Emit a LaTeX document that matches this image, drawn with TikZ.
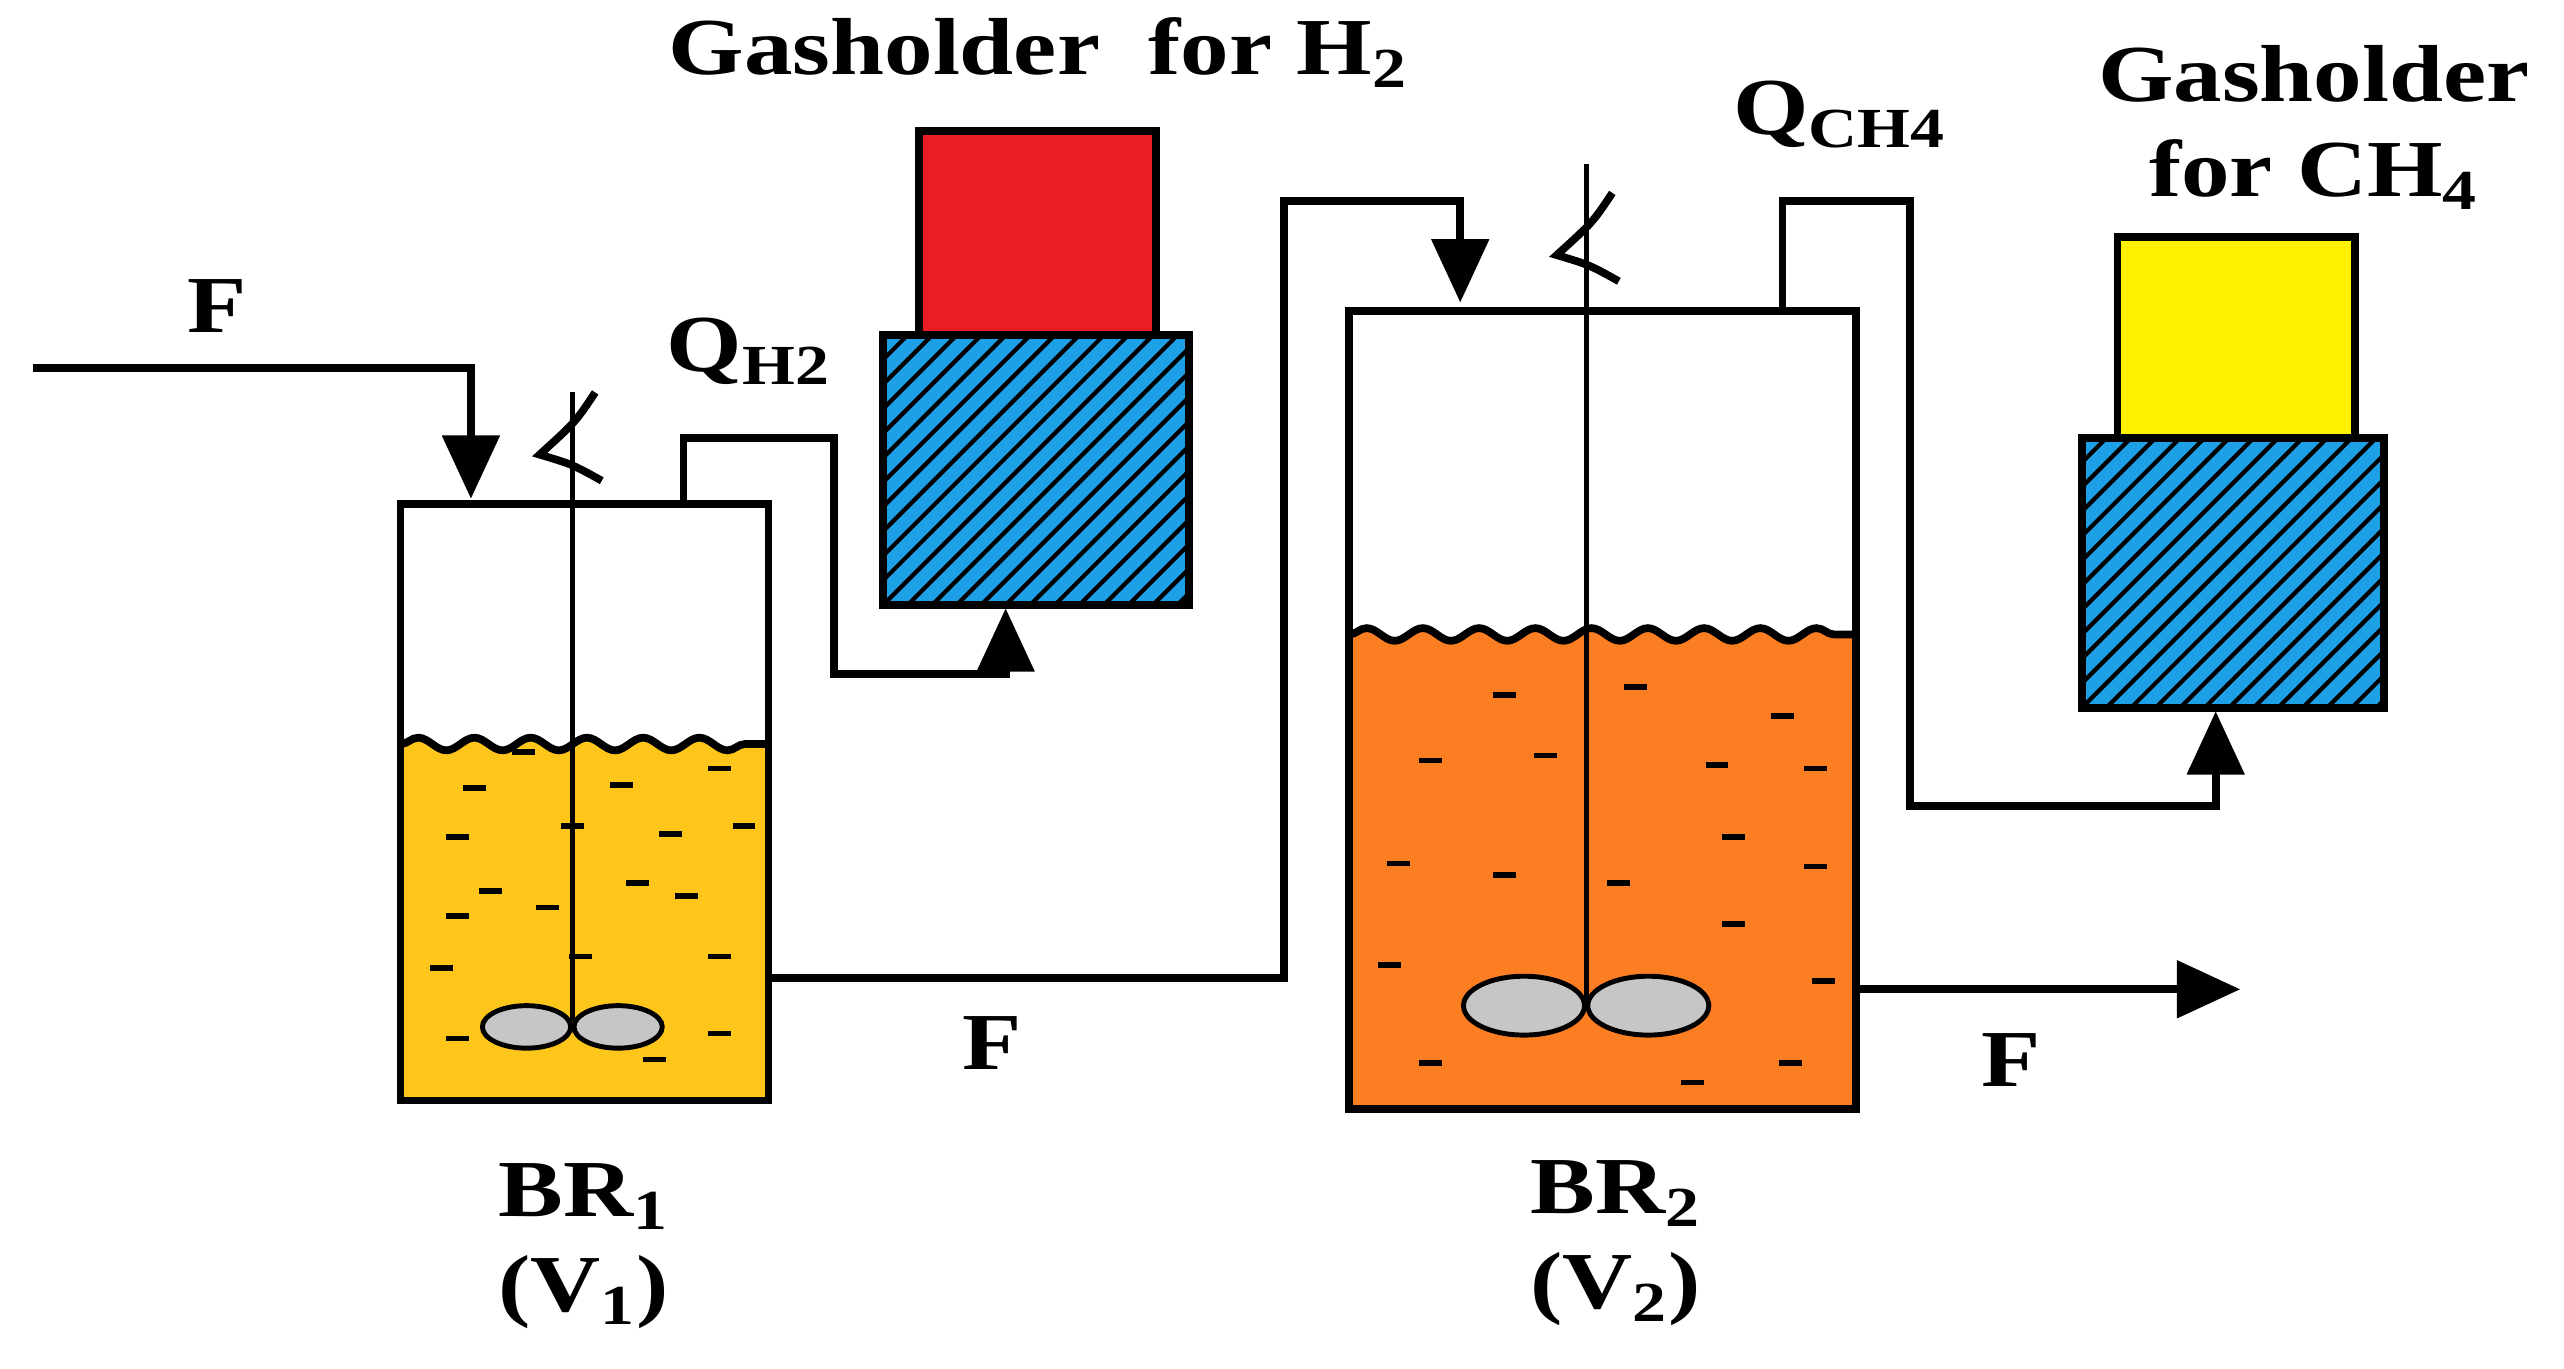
\documentclass[tikz,border=0pt]{standalone}
\usepackage{fontspec}
\setmainfont{Liberation Serif}[FakeStretch=1.2]
\usetikzlibrary{positioning,arrows.meta,decorations.pathmorphing}
\definecolor{yellowliq}{RGB}{254,198,26}
\definecolor{orangeliq}{RGB}{252,126,35}
\definecolor{gasred}{RGB}{236,28,36}
\definecolor{gasyellow}{RGB}{255,242,0}
\definecolor{hatchblue}{RGB}{30,160,230}
\tikzset{
  tank/.style={draw=black, line width=2.2pt},
  pipe/.style={draw=black, line width=2.2pt},
  flow/.style={pipe, -{Triangle[length=18pt,width=16pt]}},
  shaft/.style={draw=black, line width=1.4pt},
  blade/.style={draw=black, line width=1.4pt, fill=gray!45},
  lbl/.style={font=\fontsize{23}{27}\selectfont\bfseries, inner sep=0pt, align=center},
  wave/.style={decoration={snake, amplitude=1.8pt, segment length=16pt}},
  liqdash/.style={draw=black, line width=1.6pt}
}
\newcommand{\hatchbox}[4]{%
  \fill[hatchblue] (#1,#2) rectangle (#3,#4);
  \begin{scope}
    \clip (#1,#2) rectangle (#3,#4);
    \foreach \k in {-300,-285,...,300}
      \draw[line width=1.2pt] (#1+\k,#4) -- ++(220,-220);
  \end{scope}
  \draw[tank] (#1,#2) rectangle (#3,#4);}
\newcommand{\stirhook}[2]{%
  \draw[line width=2.2pt] (#1+14,#2) .. controls (#1+2,#2+18) .. (#1-20,#2+38)
    .. controls (#1,#2+44) .. (#1+18,#2+54);}
\begin{document}
\begin{tikzpicture}[x=0.1635mm, y=-0.1635mm]
\useasboundingbox (0,0) rectangle (1568,837);

% BR1
\path[fill=yellowliq] (245,455) decorate[wave]{-- (470,455)} -- (470,673) -- (245,673) -- cycle;
\draw[tank, wave] (245,455) decorate{-- (470,455)};
\coordinate (br1nw) at (245,308);
\coordinate (br1se) at (470,673);
\draw[tank] (br1nw) rectangle (br1se);
\foreach \x/\y in {290/482,320/460,380/480,440/470,280/512,350/505,410/510,455/505,300/545,390/540,280/560,335/555,420/548,270/592,355/585,440/585,280/635,440/632,400/648}
  \draw[liqdash] (\x-7,\y) -- (\x+7,\y);
\draw[shaft] (350,240) -- (350,625);
\draw[blade] (322,628) ellipse (27 and 13);
\draw[blade] (378,628) ellipse (27 and 13);
\stirhook{350}{240}

% BR2
\path[fill=orangeliq] (825,388) decorate[wave]{-- (1135,388)} -- (1135,678) -- (825,678) -- cycle;
\draw[tank, wave] (825,388) decorate{-- (1135,388)};
\coordinate (br2nw) at (825,190);
\coordinate (br2se) at (1135,678);
\draw[tank] (br2nw) rectangle (br2se);
\foreach \x/\y in {920/425,1000/420,1090/438,875/465,945/462,1050/468,1110/470,855/528,920/535,990/540,1060/512,1110/530,850/590,1060/565,875/650,1035/662,1095/650,1115/600}
  \draw[liqdash] (\x-7,\y) -- (\x+7,\y);
\draw[shaft] (970,100) -- (970,612);
\draw[blade] (932,615) ellipse (37 and 18);
\draw[blade] (1008,615) ellipse (37 and 18);
\stirhook{972}{118}

% gasholders
\fill[gasred] (562,80) rectangle (707,205);
\draw[tank] (562,80) rectangle (707,205);
\hatchbox{540}{205}{727}{370}
\fill[gasyellow] (1295,145) rectangle (1440,268);
\draw[tank] (1295,145) rectangle (1440,268);
\hatchbox{1273}{268}{1458}{433}

% connector points
\coordinate (feedin) at (20,225);
\coordinate (feed1) at (288,305);
\coordinate (h2out) at (418,308);
\coordinate (h2in) at (615,372);
\coordinate (br1out) at (470,598);
\coordinate (feed2) at (893,185);
\coordinate (ch4out) at (1090,190);
\coordinate (ch4in) at (1355,435);
\coordinate (br2out) at (1135,605);
\coordinate (effl) at (1370,605);

% lines
\draw[flow] (feedin) -| (feed1);
\draw[flow] (h2out) |- (510,268) |- (615,412) -- (h2in);
\draw[flow] (br1out) -| (785,123) -| (feed2);
\draw[flow] (ch4out) |- (1168,123) |- (1355,493) -- (ch4in);
\draw[flow] (br2out) -- (effl);

% labels
\node[lbl] (ff) at (133,187) {F};
\node[lbl] (fq1) at (458,215) {Q\textsubscript{H2}};
\node[lbl] (fg1) at (635,32) {Gasholder\ \ for H\textsubscript{2}};
\node[lbl] (fm) at (607,638) {F};
\node[lbl] (fq2) at (1125,70) {Q\textsubscript{CH4}};
\node[lbl] (fg2) at (1415,78) {Gasholder\\for CH\textsubscript{4}};
\node[lbl] (fo) at (1230,648) {F};
\node[lbl] (b1) at (357,762) {BR\textsubscript{1}\\(V\textsubscript{1})};
\node[lbl] (b2) at (988,760) {BR\textsubscript{2}\\(V\textsubscript{2})};
\end{tikzpicture}
\end{document}
